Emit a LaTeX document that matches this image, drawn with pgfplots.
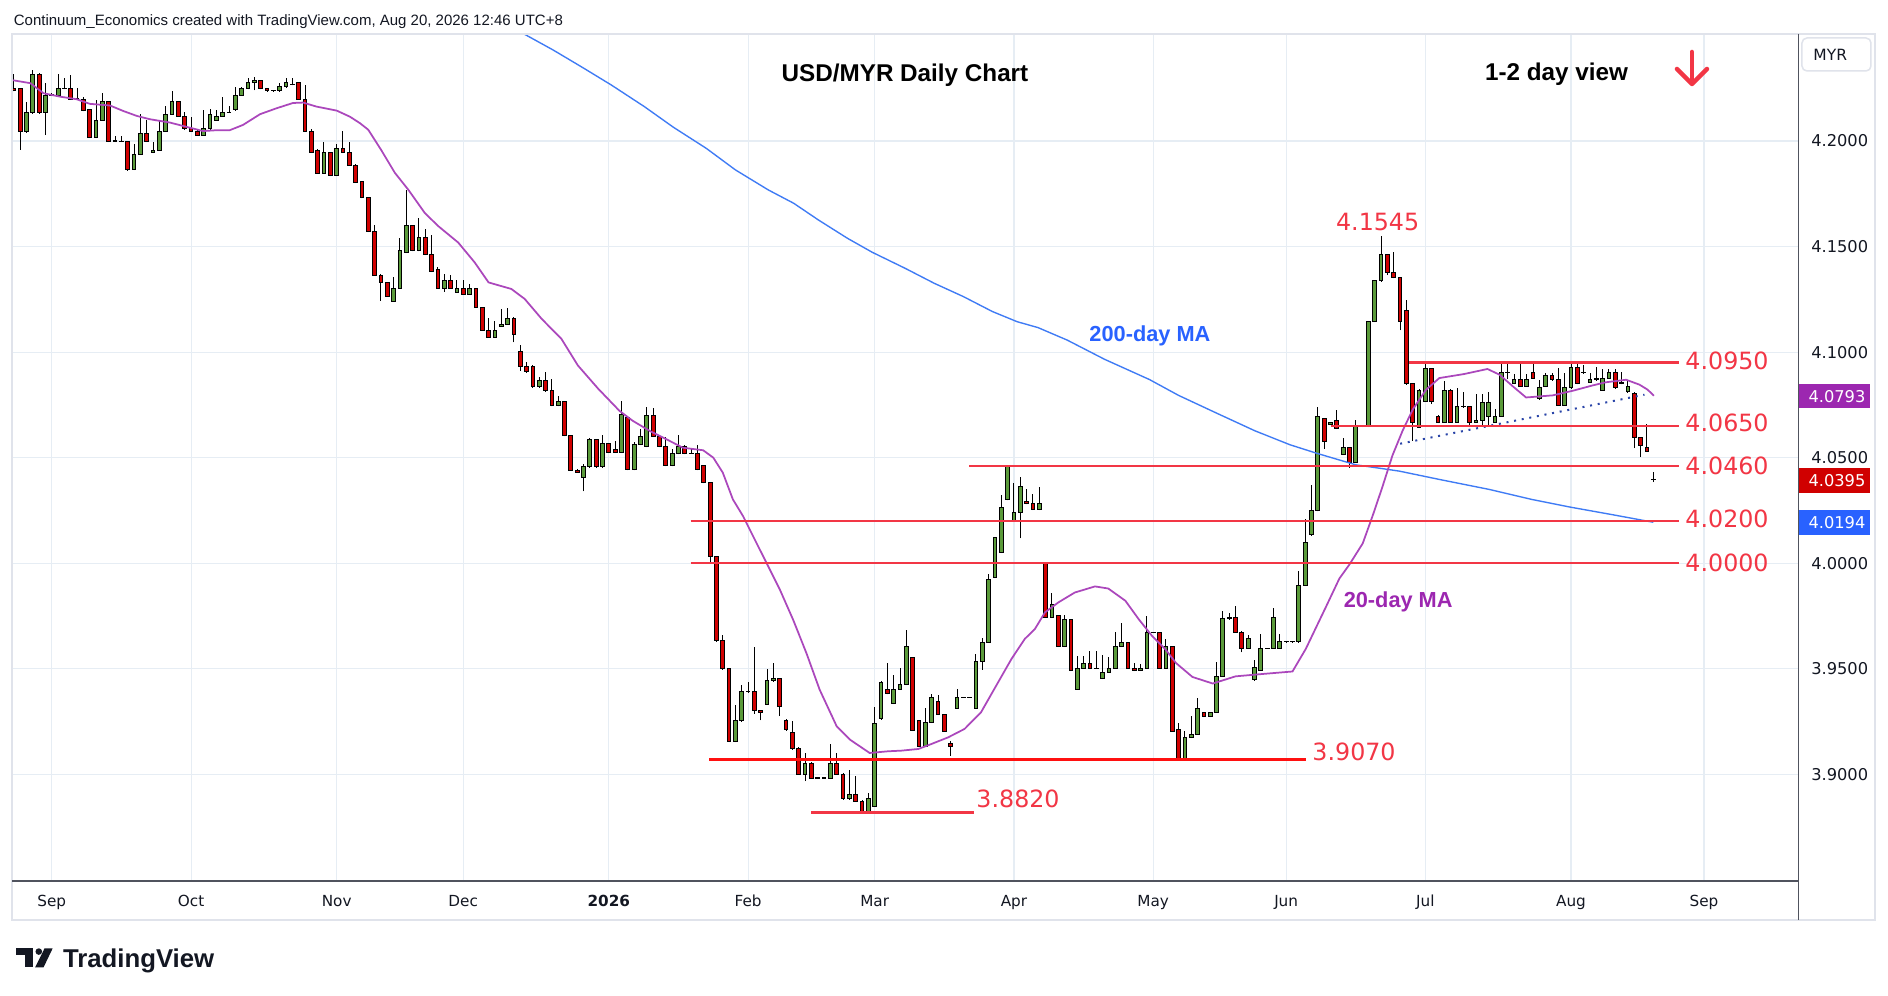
\documentclass[border=0pt]{standalone}
\usepackage{fontspec}
\setmainfont{DejaVu Sans}
\newfontfamily\lib{Liberation Sans}
\usepackage{pgfplots}
\usepackage{pgfplotstable}
\pgfplotsset{compat=1.18}
\definecolor{cgreen}{HTML}{5A9A3A}
\definecolor{cred}{HTML}{D00000}
\definecolor{lred}{HTML}{F23645}
\definecolor{pred}{HTML}{FF1010}
\definecolor{ma20}{HTML}{AB47BC}
\definecolor{ma20t}{HTML}{9C27B0}
\definecolor{ma200}{HTML}{3F7BF5}
\definecolor{ma200t}{HTML}{2962FF}
\definecolor{gridc}{HTML}{E6EDF4}
\definecolor{bordc}{HTML}{E0E3EB}
\definecolor{axc}{HTML}{50535E}
\definecolor{txt}{HTML}{131722}
\definecolor{trend}{HTML}{2A45A8}

\pgfplotstableread{
i o h l c
-6 4.2250 4.2316 4.2235 4.2240
-5 4.2248 4.2252 4.1959 4.2046
-4 4.2046 4.2184 4.2040 4.2136
-3 4.2136 4.2337 4.2130 4.2316
-2 4.2316 4.2320 4.2130 4.2136
-1 4.2136 4.2274 4.2028 4.2217
0 4.2217 4.2226 4.2212 4.2220
1 4.2217 4.2318 4.2212 4.2247
2 4.2247 4.2297 4.2244 4.2248
3 4.2247 4.2313 4.2195 4.2198
4 4.2198 4.2250 4.2195 4.2199
5 4.2198 4.2207 4.2140 4.2144
6 4.2147 4.2150 4.2014 4.2017
7 4.2017 4.2195 4.2014 4.2098
8 4.2098 4.2226 4.2095 4.2188
9 4.2188 4.2190 4.1995 4.1997
10 4.2000 4.2024 4.1995 4.1999
11 4.1997 4.2024 4.1995 4.1998
12 4.1997 4.1999 4.1860 4.1864
13 4.1866 4.1986 4.1862 4.1937
14 4.1937 4.2127 4.1934 4.2036
15 4.2036 4.2100 4.1995 4.1998
16 4.1946 4.1994 4.1943 4.1956
17 4.1956 4.2100 4.1953 4.2046
18 4.2046 4.2166 4.2043 4.2127
19 4.2127 4.2237 4.2124 4.2188
20 4.2188 4.2190 4.2114 4.2117
21 4.2117 4.2139 4.2054 4.2057
22 4.2057 4.2115 4.2043 4.2046
23 4.2046 4.2050 4.2024 4.2027
24 4.2027 4.2147 4.2024 4.2057
25 4.2057 4.2152 4.2054 4.2127
26 4.2098 4.2147 4.2095 4.2117
27 4.2117 4.2209 4.2114 4.2136
28 4.2136 4.2165 4.2133 4.2137
29 4.2147 4.2256 4.2144 4.2217
30 4.2217 4.2258 4.2214 4.2247
31 4.2247 4.2297 4.2244 4.2278
32 4.2278 4.2304 4.2240 4.2288
33 4.2288 4.2290 4.2244 4.2247
34 4.2247 4.2250 4.2234 4.2237
35 4.2237 4.2240 4.2234 4.2238
36 4.2237 4.2274 4.2234 4.2256
37 4.2256 4.2297 4.2253 4.2278
38 4.2266 4.2297 4.2263 4.2267
39 4.2278 4.2280 4.2195 4.2198
40 4.2198 4.2266 4.2043 4.2046
41 4.2046 4.2057 4.1943 4.1946
42 4.1956 4.1960 4.1844 4.1847
43 4.1847 4.1994 4.1844 4.1946
44 4.1946 4.1950 4.1834 4.1837
45 4.1837 4.1986 4.1834 4.1965
46 4.1965 4.2047 4.1943 4.1946
47 4.1946 4.1994 4.1883 4.1886
48 4.1886 4.1890 4.1800 4.1804
49 4.1807 4.1810 4.1728 4.1731
50 4.1731 4.1734 4.1568 4.1571
51 4.1571 4.1601 4.1362 4.1365
52 4.1365 4.1368 4.1244 4.1330
53 4.1330 4.1333 4.1261 4.1264
54 4.1241 4.1355 4.1238 4.1302
55 4.1302 4.1539 4.1299 4.1481
56 4.1472 4.1766 4.1469 4.1599
57 4.1599 4.1602 4.1477 4.1480
58 4.1480 4.1634 4.1477 4.1543
59 4.1543 4.1582 4.1459 4.1462
60 4.1462 4.1554 4.1379 4.1382
61 4.1392 4.1401 4.1299 4.1302
62 4.1302 4.1370 4.1286 4.1340
63 4.1340 4.1365 4.1299 4.1302
64 4.1283 4.1340 4.1280 4.1302
65 4.1302 4.1340 4.1271 4.1274
66 4.1274 4.1322 4.1271 4.1302
67 4.1302 4.1305 4.1209 4.1212
68 4.1212 4.1215 4.1101 4.1104
69 4.1104 4.1162 4.1068 4.1071
70 4.1071 4.1148 4.1068 4.1104
71 4.1123 4.1205 4.1120 4.1132
72 4.1132 4.1208 4.1129 4.1161
73 4.1161 4.1164 4.1046 4.1084
74 4.1005 4.1033 4.0911 4.0934
75 4.0934 4.0953 4.0903 4.0906
76 4.0934 4.0937 4.0832 4.0835
77 4.0835 4.0884 4.0832 4.0865
78 4.0865 4.0906 4.0813 4.0816
79 4.0816 4.0874 4.0743 4.0746
80 4.0746 4.0793 4.0743 4.0764
81 4.0764 4.0767 4.0601 4.0604
82 4.0604 4.0607 4.0438 4.0441
83 4.0441 4.0444 4.0428 4.0431
84 4.0406 4.0472 4.0340 4.0456
85 4.0456 4.0595 4.0453 4.0585
86 4.0585 4.0588 4.0453 4.0456
87 4.0456 4.0606 4.0453 4.0566
88 4.0566 4.0569 4.0521 4.0524
89 4.0538 4.0577 4.0521 4.0524
90 4.0524 4.0766 4.0521 4.0703
91 4.0690 4.0693 4.0440 4.0443
92 4.0443 4.0576 4.0440 4.0562
93 4.0562 4.0638 4.0559 4.0600
94 4.0552 4.0742 4.0549 4.0699
95 4.0699 4.0734 4.0597 4.0600
96 4.0600 4.0603 4.0549 4.0552
97 4.0552 4.0600 4.0459 4.0462
98 4.0462 4.0543 4.0459 4.0519
99 4.0519 4.0609 4.0516 4.0552
100 4.0552 4.0562 4.0516 4.0519
101 4.0522 4.0546 4.0518 4.0521
102 4.0519 4.0562 4.0440 4.0443
103 4.0462 4.0465 4.0378 4.0381
104 4.0381 4.0384 4.0000 4.0030
105 4.0030 4.0033 3.9629 3.9632
106 3.9632 3.9660 3.9496 3.9499
107 3.9499 3.9502 3.9152 3.9155
108 3.9155 3.9330 3.9152 3.9253
109 3.9253 3.9425 3.9250 3.9390
110 3.9390 3.9438 3.9387 3.9391
111 3.9390 3.9604 3.9287 3.9300
112 3.9300 3.9303 3.9256 3.9291
113 3.9333 3.9499 3.9330 3.9442
114 3.9442 3.9528 3.9439 3.9452
115 3.9452 3.9455 3.9275 3.9319
116 3.9253 3.9262 3.9207 3.9210
117 3.9200 3.9253 3.9117 3.9120
118 3.9120 3.9129 3.8998 3.9001
119 3.9001 3.9102 3.8968 3.9053
120 3.9053 3.9056 3.8979 3.8982
121 3.8982 3.8985 3.8979 3.8983
122 3.8982 3.8985 3.8979 3.8983
123 3.8982 3.9145 3.8979 3.9053
124 3.9053 3.9102 3.8998 3.9001
125 3.9001 3.9004 3.8880 3.8883
126 3.8883 3.9019 3.8880 3.8902
127 3.8902 3.8993 3.8870 3.8873
128 3.8873 3.8876 3.8820 3.8823
129 3.8823 3.8911 3.8820 3.8883
130 3.8849 3.9319 3.8846 3.9243
131 3.9262 3.9440 3.9259 3.9433
132 3.9401 3.9528 3.9379 3.9382
133 3.9336 3.9470 3.9333 3.9404
134 3.9404 3.9503 3.9401 3.9426
135 3.9426 3.9683 3.9423 3.9606
136 3.9554 3.9557 3.9204 3.9207
137 3.9256 3.9259 3.9130 3.9133
138 3.9133 3.9314 3.9130 3.9246
139 3.9246 3.9380 3.9243 3.9365
140 3.9346 3.9376 3.9280 3.9283
141 3.9283 3.9286 3.9201 3.9204
142 3.9145 3.9158 3.9089 3.9133
143 3.9313 3.9404 3.9310 3.9365
144 3.9365 3.9368 3.9362 3.9366
145 3.9365 3.9368 3.9362 3.9366
146 3.9313 3.9570 3.9310 3.9535
147 3.9535 3.9648 3.9495 3.9625
148 3.9625 3.9951 3.9622 3.9923
149 3.9932 4.0125 3.9929 4.0122
150 4.0051 4.0325 4.0048 4.0263
151 4.0301 4.0467 4.0298 4.0464
152 4.0202 4.0382 4.0199 4.0240
153 4.0240 4.0410 4.0117 4.0363
154 4.0292 4.0353 4.0279 4.0282
155 4.0282 4.0330 4.0251 4.0254
156 4.0254 4.0363 4.0251 4.0282
157 4.0002 4.0005 3.9740 3.9743
158 3.9743 3.9861 3.9740 3.9805
159 3.9753 3.9756 3.9603 3.9606
160 3.9606 3.9754 3.9603 3.9734
161 3.9734 3.9737 3.9489 3.9492
162 3.9404 3.9559 3.9401 3.9502
163 3.9502 3.9559 3.9499 3.9525
164 3.9525 3.9585 3.9499 3.9502
165 3.9502 3.9585 3.9499 3.9503
166 3.9454 3.9565 3.9451 3.9483
167 3.9483 3.9554 3.9480 3.9502
168 3.9502 3.9672 3.9499 3.9606
169 3.9606 3.9719 3.9603 3.9625
170 3.9625 3.9628 3.9499 3.9502
171 3.9502 3.9525 3.9489 3.9492
172 3.9492 3.9522 3.9489 3.9502
173 3.9502 3.9748 3.9499 3.9672
174 3.9672 3.9675 3.9669 3.9673
175 3.9672 3.9675 3.9499 3.9502
176 3.9502 3.9641 3.9499 3.9606
177 3.9606 3.9609 3.9201 3.9204
178 3.9210 3.9244 3.9064 3.9067
179 3.9067 3.9207 3.9064 3.9174
180 3.9174 3.9274 3.9171 3.9190
181 3.9190 3.9360 3.9187 3.9310
182 3.9294 3.9297 3.9271 3.9274
183 3.9274 3.9297 3.9271 3.9294
184 3.9294 3.9532 3.9291 3.9464
185 3.9464 3.9774 3.9461 3.9736
186 3.9736 3.9764 3.9733 3.9744
187 3.9744 3.9797 3.9671 3.9674
188 3.9674 3.9677 3.9577 3.9597
189 3.9597 3.9661 3.9594 3.9644
190 3.9447 3.9541 3.9444 3.9507
191 3.9494 3.9664 3.9491 3.9597
192 3.9597 3.9600 3.9594 3.9598
193 3.9597 3.9789 3.9594 3.9744
194 3.9597 3.9664 3.9594 3.9627
195 3.9627 3.9630 3.9624 3.9628
196 3.9627 3.9630 3.9624 3.9628
197 3.9627 3.9961 3.9624 3.9894
198 3.9894 4.0211 3.9891 4.0098
199 4.0134 4.0370 4.0131 4.0248
200 4.0248 4.0740 4.0245 4.0695
201 4.0686 4.0689 4.0541 4.0575
202 4.0658 4.0668 4.0655 4.0665
203 4.0675 4.0728 4.0635 4.0638
204 4.0515 4.0595 4.0512 4.0548
205 4.0548 4.0551 4.0451 4.0475
206 4.0478 4.0678 4.0475 4.0648
207 4.0648 4.0651 4.0645 4.0649
208 4.0648 4.1148 4.0645 4.1145
209 4.1145 4.1340 4.1142 4.1337
210 4.1337 4.1549 4.1334 4.1462
211 4.1462 4.1465 4.1365 4.1379
212 4.1379 4.1472 4.1349 4.1352
213 4.1352 4.1355 4.1103 4.1145
214 4.1199 4.1249 4.0845 4.0850
215 4.0850 4.0853 4.0581 4.0668
216 4.0645 4.0823 4.0642 4.0820
217 4.0768 4.0948 4.0765 4.0920
218 4.0920 4.0923 4.0754 4.0768
219 4.0697 4.0700 4.0664 4.0668
220 4.0668 4.0865 4.0665 4.0820
221 4.0820 4.0823 4.0665 4.0668
222 4.0668 4.0830 4.0665 4.0740
223 4.0740 4.0809 4.0737 4.0741
224 4.0740 4.0743 4.0645 4.0668
225 4.0668 4.0803 4.0665 4.0678
226 4.0678 4.0803 4.0654 4.0759
227 4.0697 4.0809 4.0654 4.0759
228 4.0668 4.0730 4.0665 4.0697
229 4.0697 4.0948 4.0694 4.0901
230 4.0901 4.0948 4.0872 4.0902
231 4.0850 4.0898 4.0847 4.0868
232 4.0868 4.0948 4.0836 4.0839
233 4.0839 4.0898 4.0836 4.0868
234 4.0901 4.0948 4.0874 4.0877
235 4.0778 4.0869 4.0775 4.0830
236 4.0839 4.0901 4.0836 4.0891
237 4.0891 4.0901 4.0865 4.0868
238 4.0868 4.0925 4.0746 4.0749
239 4.0749 4.0901 4.0746 4.0830
240 4.0830 4.0955 4.0827 4.0929
241 4.0929 4.0955 4.0847 4.0850
242 4.0901 4.0941 4.0898 4.0902
243 4.0858 4.0901 4.0855 4.0868
244 4.0868 4.0929 4.0865 4.0877
245 4.0820 4.0920 4.0817 4.0877
246 4.0877 4.0920 4.0874 4.0901
247 4.0901 4.0920 4.0827 4.0830
248 4.0858 4.0906 4.0847 4.0850
249 4.0811 4.0868 4.0808 4.0839
250 4.0806 4.0809 4.0545 4.0597
251 4.0597 4.0600 4.0502 4.0559
252 4.0550 4.0659 4.0528 4.0531
253 4.0395 4.0431 4.0384 4.0396
}\candles

\pgfplotsset{common/.style={scale only axis, width=714pt, height=338.8pt,
  at={(5.2pt,46pt)}, anchor=south west,
  xmin=-6.13, xmax=275.86, ymin=3.84946, ymax=4.25069}}

\begin{document}
\begin{tikzpicture}
\path[use as bounding box, fill=white] (0,0) rectangle (755.2pt,398.4pt);

% background axis: grid, tick labels, wicks
\begin{axis}[common, axis line style={draw=none}, major tick length=0pt, tick style={draw=none},
  xtick={0,22,45,65,88,110,130,152,174,195,217,240,261},
  xticklabels={Sep,Oct,Nov,Dec,\textbf{2026},Feb,Mar,Apr,May,Jun,Jul,Aug,Sep},
  ytick={3.9,3.95,4.0,4.05,4.1,4.15,4.2},
  yticklabel pos=right,
  grid=major, major grid style={draw=gridc, line width=0.45pt},
  /pgf/number format/assume math mode=true,
  yticklabel style={/pgf/number format/fixed, /pgf/number format/fixed zerofill,
    /pgf/number format/precision=4, font=\fontsize{6.5}{7}\selectfont, text=txt,
    anchor=west, inner sep=0pt, xshift=5.1pt},
  xticklabel style={font=\fontsize{6.1}{7}\selectfont, text=txt, anchor=base,
    inner sep=0pt, yshift=-10.3pt},
]
\addplot[draw=none, no markers, error bars/.cd, y dir=plus, y explicit, error mark=none,
  error bar style={draw=black, line width=0.4pt}]
  table[x=i, y=l, y error expr={\thisrow{h}-\thisrow{l}}] {\candles};
\end{axis}

% candle bodies
\begin{axis}[common, hide axis, ybar stacked, bar width=1.5pt]
\addplot[draw=none, fill=none] table[x=i, y expr={min(\thisrow{o},\thisrow{c})}] {\candles};
\addplot[fill=cgreen, draw=black, line width=0.4pt] table[x=i, y expr={max(\thisrow{c}-\thisrow{o},0)}] {\candles};
\addplot[fill=cred, draw=black, line width=0.4pt] table[x=i, y expr={max(\thisrow{o}-\thisrow{c},0)}] {\candles};
\end{axis}

% overlays
\begin{axis}[common, hide axis]
\addplot[ma200, line width=0.55pt] coordinates {
(72,4.2555) (74.6,4.2507) (79.2,4.2431) (83.8,4.2349) (88.4,4.2265) (93.6,4.2163)
(98.2,4.2065) (103.4,4.1965) (108,4.1863) (113.2,4.1768) (117.2,4.1705) (121.1,4.1626)
(125.7,4.1539) (129.6,4.1473) (134.8,4.1397) (139.4,4.1326) (144,4.1263) (148.6,4.1192)
(152.5,4.1144) (155.8,4.1116) (160.4,4.1057) (166.3,4.0966) (173.4,4.0870) (178,4.0795)
(184,4.0711) (190,4.0628) (195.6,4.0561) (199.9,4.0520) (206,4.0466) (210.2,4.0448)
(212.9,4.0436) (219,4.0398) (227,4.0350) (233.8,4.0302) (240,4.0265) (246.5,4.0230) (253,4.0194)};
\addplot[ma20, line width=0.7pt] coordinates {
(-6.2,4.2288) (-3.4,4.2274) (-1.3,4.2226) (1.3,4.2210) (3.9,4.2198) (6,4.2176) (9.2,4.2168)
(11.3,4.2142) (13.4,4.2119) (15.5,4.2103) (18.7,4.2087) (21.8,4.2063) (23.9,4.2047)
(26,4.2051) (28.1,4.2051) (30.2,4.2076) (32.9,4.2127) (35.5,4.2155) (38.1,4.2180)
(39.7,4.2182) (41.8,4.2163) (45,4.2144) (47.1,4.2115) (48.7,4.2084) (50,4.2053)
(52,4.1959) (54.2,4.1849) (56.3,4.1770) (58.9,4.1660) (61,4.1598) (64.2,4.1519)
(66.8,4.1425) (69,4.1330) (72.6,4.1299) (74.7,4.1252) (77.4,4.1157) (80.5,4.1063)
(83.1,4.0937) (86.3,4.0827) (89.7,4.0721) (91.8,4.0674) (94.5,4.0626) (97.1,4.0587)
(99.7,4.0547) (102.9,4.0535) (104.5,4.0500) (106,4.0429) (107.6,4.0302) (109.2,4.0223)
(111.3,4.0097) (112.9,4.0002) (115,3.9876) (117.1,3.9733) (119.2,3.9575) (121.3,3.9401)
(124,3.9227) (126.1,3.9164) (129.2,3.9101) (132.1,3.9109) (134.2,3.9112) (136.9,3.9120)
(139,3.9144) (141.6,3.9175) (144.2,3.9215) (146.8,3.9294) (149.5,3.9436) (151.6,3.9546)
(153.7,3.9641) (155.3,3.9688) (156.9,3.9767) (159,3.9814) (161.6,3.9861) (164.8,3.9890)
(166.9,3.9880) (169.6,3.9822) (171.7,3.9735) (173.8,3.9656) (175.9,3.9593) (177.6,3.9527)
(180.2,3.9461) (183.4,3.9430) (187,3.9464) (190.8,3.9474) (196,3.9487) (198.1,3.9594)
(199.7,3.9694) (201.3,3.9794) (203.4,3.9927) (205,3.9994) (207.1,4.0094) (208.7,4.0228)
(210.2,4.0361) (211.8,4.0511) (213.4,4.0628) (215,4.0728) (217.1,4.0822) (219.2,4.0877)
(223.1,4.0896) (226.8,4.0920) (228.7,4.0893) (230.8,4.0838) (232.9,4.0785) (235,4.0790)
(237.1,4.0795) (240.3,4.0817) (243.4,4.0842) (245.5,4.0857) (248.7,4.0869) (250.8,4.0846)
(252.1,4.0822) (253.1,4.0793)};
\addplot[trend, line width=0.8pt, dash pattern=on 0.8pt off 2.3pt] coordinates {(213,4.0566) (251.6,4.0798)};
\addplot[lred, line width=1pt] coordinates {(214.4,4.095) (257.1,4.095)};
\addplot[lred, line width=1pt] coordinates {(202.1,4.065) (257.1,4.065)};
\addplot[lred, line width=1pt] coordinates {(144.9,4.046) (257.1,4.046)};
\addplot[lred, line width=1pt] coordinates {(100.9,4.020) (257.1,4.020)};
\addplot[lred, line width=1pt] coordinates {(100.9,4.000) (257.1,4.000)};
\addplot[pred, line width=1pt] coordinates {(103.9,3.907) (198.2,3.907)};
\addplot[lred, line width=1pt] coordinates {(120,3.882) (145.7,3.882)};
\end{axis}

\begin{scope}[x=0.4pt, y=-0.4pt, shift={(0pt,398.4pt)}]
\draw[bordc, line width=0.8pt] (12.5,34) rectangle (1875,920);
\draw[axc, line width=0.45pt] (12.5,881) -- (1798.5,881);
\draw[axc, line width=0.45pt] (1798.5,34) -- (1798.5,920);
% header
\node[anchor=base west, inner sep=0pt, text=txt, font=\lib\fontsize{6}{7}\selectfont] at (13.4,25.7)
  {Continuum\_Economics created with TradingView.com, Aug 20, 2026 12:46 UTC+8};
\node[anchor=base, inner sep=0pt, text=black, font=\lib\bfseries\fontsize{9.7}{11}\selectfont] at (905,81.5) {USD/MYR Daily Chart};
\node[anchor=base, inner sep=0pt, text=black, font=\lib\bfseries\fontsize{9.7}{11}\selectfont] at (1556.5,81) {1-2 day view};
\draw[lred, line width=1.8pt, line cap=round, line join=round] (1692,52) -- (1692,83);
\draw[lred, line width=1.8pt, line cap=round, line join=round] (1677,69) -- (1692,84) -- (1707,69);
% MYR box
\draw[bordc, fill=white, rounded corners=2pt, line width=0.6pt] (1802,38) rectangle (1871,71);
\node[anchor=west, inner sep=0pt, text=txt, font=\fontsize{6.2}{7}\selectfont] at (1813,55) {MYR};
% level labels
\begin{scope}[every node/.style={anchor=west, inner sep=0pt, text=lred, font=\fontsize{9.5}{11}\selectfont}]
\node at (1335.6,222.5) {4.1545};
\node at (1685,360.7) {4.0950};
\node at (1685,422.7) {4.0650};
\node at (1685,466) {4.0460};
\node at (1685,519.2) {4.0200};
\node at (1685,563) {4.0000};
\node at (1312,751.6) {3.9070};
\node at (976,799) {3.8820};
\end{scope}
\node[anchor=base west, inner sep=0pt, text=ma200t, font=\lib\bfseries\fontsize{8.7}{10}\selectfont] at (1089,342) {200-day MA};
\node[anchor=base west, inner sep=0pt, text=ma20t, font=\lib\bfseries\fontsize{8.7}{10}\selectfont] at (1343.3,607.7) {20-day MA};
% price boxes
\fill[ma20t] (1799,384.3) rectangle (1870,408.3);
\node[text=white, inner sep=0pt, font=\fontsize{6.5}{7}\selectfont] at (1837,396.3) {4.0793};
\fill[cred] (1799,468.3) rectangle (1870,492.7);
\node[text=white, inner sep=0pt, font=\fontsize{6.5}{7}\selectfont] at (1837,480.5) {4.0395};
\fill[ma200t] (1799,510) rectangle (1870,535);
\node[text=white, inner sep=0pt, font=\fontsize{6.5}{7}\selectfont] at (1837,522.5) {4.0194};
% TradingView logo
\fill[txt] (15.6,948.3) rectangle (33.5,955);
\fill[txt] (24.6,948.3) rectangle (33.5,967.3);
\fill[txt] (38.8,951.6) circle (3.3);
\fill[txt] (44.6,948.3) -- (52.7,948.3) -- (43.6,967.3) -- (35.2,967.3) -- cycle;
\node[anchor=base west, inner sep=0pt, text=txt, font=\lib\bfseries\fontsize{10.3}{12}\selectfont] at (62.5,967.3) {TradingView};
\end{scope}
\end{tikzpicture}
\end{document}
